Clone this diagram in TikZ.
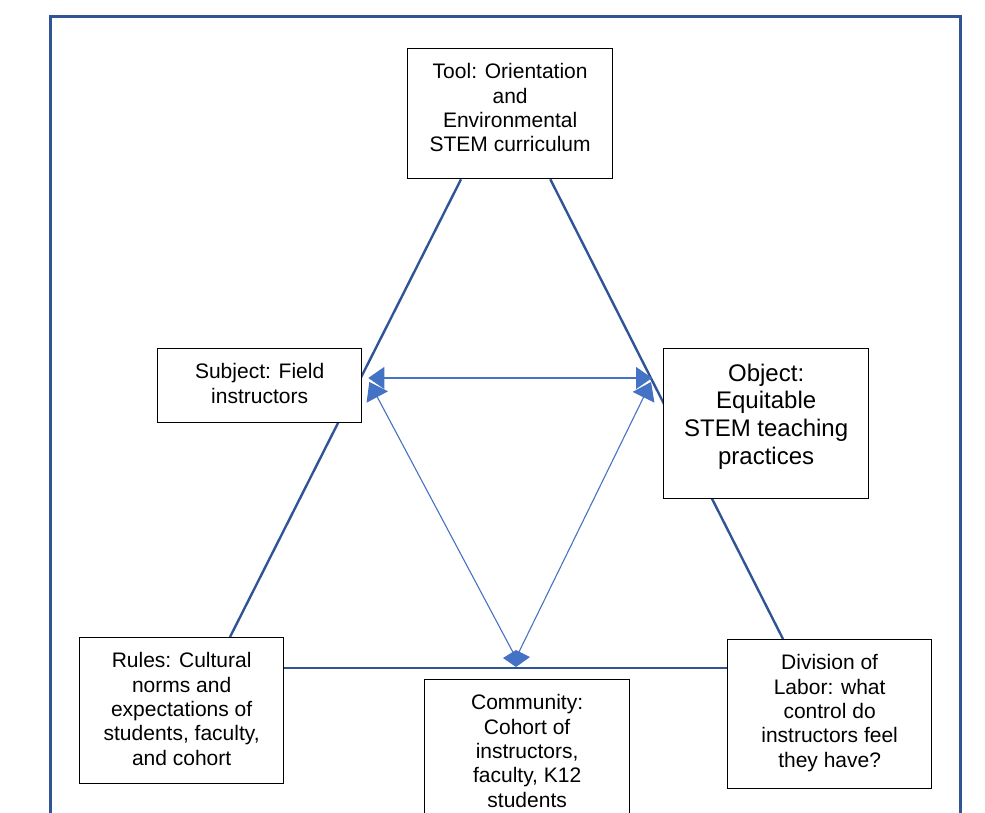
\documentclass[tikz,border=0pt]{standalone}
\usepackage{fontspec}
\setmainfont{Liberation Sans}
\usetikzlibrary{arrows.meta,calc,backgrounds}
\tikzstyle{diagram} = [x = 1pt, y = -1pt]
\definecolor{frameColor}{RGB}{47,85,151}
\definecolor{arrowColor}{RGB}{68,114,196}
\tikzstyle{frameLine} = [color=frameColor, line width=3pt]
\tikzstyle{triangleLine} = [color=frameColor, line width=2.4pt]
\tikzstyle{boxStyle} = [rectangle, draw=black, fill=white, line width=1.3pt, inner sep=0pt, anchor=north west]
\tikzstyle{mediationArrow} = [color=arrowColor, line width=1.1pt, -{Triangle[width=24pt,length=17pt]}]
\tikzstyle{mediationBothArrow} = [color=arrowColor, line width=1.1pt, {Triangle[width=22pt,length=16pt]}-{Triangle[width=22pt,length=16pt]}]
\newcommand{\smallText}{\fontsize{21}{24.4}\selectfont}
\newcommand{\largeText}{\fontsize{24}{27.7}\selectfont}
\newcommand{\activityBox}[7]{\node [boxStyle] (#1) at (#2, #3) {\parbox[c][#5pt][t]{#4pt}{\centering #6\vspace*{13pt}\strut #7}};}

\begin{document}
\begin{tikzpicture}[diagram]
          \useasboundingbox (0,0) rectangle (985,813);
          \clip (0,0) rectangle (985,813);
          \draw [frameLine] (50,813) -- (50,17) -- (960,17) -- (960,813);

          \activityBox{tool}{407}{48}{205}{130}{\smallText}{Tool: Orientation\\and\\Environmental\\STEM curriculum}
          \activityBox{subject}{157}{348}{204}{74}{\smallText}{Subject: Field\\instructors}
          \activityBox{object}{663}{348}{205}{150}{\largeText}{Object:\\Equitable\\STEM teaching\\practices}
          \activityBox{rules}{79}{637}{204}{146}{\smallText}{Rules: Cultural\\norms and\\expectations of\\students, faculty,\\and cohort}
          \activityBox{community}{424}{679}{205}{144}{\smallText}{Community:\\Cohort of\\instructors,\\faculty, K12\\students}
          \activityBox{division}{727}{639}{204}{149}{\smallText}{Division of\\Labor: what\\control do\\instructors feel\\they have?}

          \begin{pgfonlayer}{background}
            \draw [triangleLine] ($(tool.south west)+(54,0)$) -- ($(rules.north west)+(151,0)$);
            \draw [triangleLine] ($(tool.south east)+(-63,0)$) -- ($(division.north west)+(56,0)$);
            \draw [triangleLine] ($(rules.north east)+(0,31)$) -- ($(division.north west)+(0,29)$);
          \end{pgfonlayer}

          \coordinate (subjectTip) at ($(subject.north east)+(6,30)$);
          \coordinate (objectTip) at ($(object.north west)+(-11,30)$);
          \coordinate (hub) at ($(community.north west)+(92,-21)$);
          \draw [mediationBothArrow] (subjectTip) -- (objectTip);
          \draw [mediationArrow] (hub) -- ($(subjectTip)+(1,4)$);
          \draw [mediationArrow] (hub) -- ($(objectTip)+(-1,4)$);
          \fill [arrowColor] ($(hub)+(0,-8)$) -- ($(hub)+(14,-1)$) -- ($(hub)+(0,9)$) -- ($(hub)+(-13,0)$) -- cycle;
        \end{tikzpicture}
\end{document}
